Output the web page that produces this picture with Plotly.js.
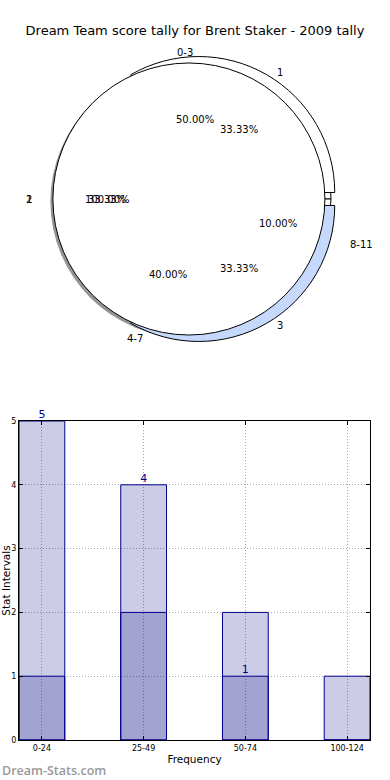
<!DOCTYPE html>
<html>
<head>
<meta charset="utf-8">
<script src="https://cdn.plot.ly/plotly-3.0.1.min.js"></script>
<style>html,body{margin:0;padding:0;background:#fff;}#chart{width:390px;height:780px;}</style>
</head>
<body>
<div id="chart"></div>
<script>
// ---------- data ----------
const chartTitle = 'Dream Team score tally for Brent Staker - 2009 tally';
const pieGroupLabels = ['0-3', '4-7', '8-11'];
const pieGroupValues = [5, 4, 1];
const pieRankLabels = ['1', '2', '3'];
const pieRankValues = [1, 1, 1];
const pieTotalLabels = ['1'];
const pieTotalValues = [1];
const barCategories = ['0-24', '25-49', '50-74', '100-124'];
const barTotals = [5, 4, 2, 1];
const barSubset = [1, 2, 1, 0];
const barLabelValues = [5, 4, 1, null];
const yTickValues = [0, 1, 2, 3, 4, 5];

// ---------- layout helpers ----------
const W = 390, H = 780;
const PIE_CX = 195, PIE_CY = 199, PIE_R = 136;   // pie geometry in px
const TXT_RX = 146, TXT_RY = 133;                // label ellipse (reference is stretched)
const px = x => x / W;
const py = y => 1 - y / H;
function pieDomain(maxPull, dx, dy) {
  const half = PIE_R * (1 + maxPull);
  const cx = PIE_CX + (dx || 0), cy = PIE_CY + (dy || 0);
  return { x: [px(cx - half), px(cx + half)], y: [py(cy + half), py(cy - half)] };
}
function maxOf(a) { return Math.max.apply(null, a); }
function sum(a) { return a.reduce((p, q) => p + q, 0); }
// Plotly (counterclockwise) puts the first slice just clockwise of `rotation`;
// shift so the first slice starts at 3 o'clock and runs counterclockwise.
function startAtThree(values) { return 90 - 360 * values[0] / sum(values); }

const pieFont = { family: 'DejaVu Sans, sans-serif', size: 10, color: '#000' };
const annotations = [];
function addPieText(labels, values) {
  const total = sum(values);
  let cum = 0;
  values.forEach((v, i) => {
    const frac = v / total;
    const ang = 2 * Math.PI * (cum + frac / 2);
    cum += frac;
    const c = Math.cos(ang), s = Math.sin(ang);
    annotations.push({
      text: (frac * 100).toFixed(2) + '%', showarrow: false, font: pieFont,
      xref: 'paper', yref: 'paper', xanchor: 'center', yanchor: 'middle',
      x: px(PIE_CX + 0.6 * TXT_RX * c), y: py(PIE_CY - 0.6 * TXT_RY * s)
    });
    annotations.push({
      text: labels[i], showarrow: false, font: pieFont,
      xref: 'paper', yref: 'paper', xanchor: c > 1e-9 ? 'left' : 'right', yanchor: 'middle',
      x: px(PIE_CX + 1.1 * TXT_RX * c), y: py(PIE_CY - 1.1 * TXT_RY * s)
    });
  });
}
addPieText(pieGroupLabels, pieGroupValues);
addPieText(pieRankLabels, pieRankValues);
addPieText(pieTotalLabels, pieTotalValues);

annotations.push({
  text: 'Dream-Stats.com', showarrow: false, xref: 'paper', yref: 'paper',
  x: 0, y: py(770), xanchor: 'left', yanchor: 'middle',
  font: { family: 'Open Sans, sans-serif', size: 12.5, color: '#999999', weight: 600 }
});

const pieCommon = {
  type: 'pie', sort: false, direction: 'counterclockwise',
  textinfo: 'none', hoverinfo: 'skip', showlegend: false
};
const rankPull = [0.055, 0, 0.055];
const totalPull = [0.045];
const groupPull = [0, 0, 0];

const traces = [
  // shadow under the pies
  Object.assign({}, pieCommon, {
    labels: pieTotalLabels, values: pieTotalValues, pull: totalPull,
    rotation: startAtThree(pieTotalValues),
    marker: { colors: ['rgba(60,60,60,0.55)'], line: { width: 0 } },
    domain: pieDomain(maxOf(totalPull), -2.5, 2.5)
  }),
  Object.assign({}, pieCommon, {
    labels: pieGroupLabels, values: pieGroupValues, pull: groupPull,
    rotation: startAtThree(pieGroupValues),
    marker: { colors: ['#ffffff', '#ffffff', '#ffffff'], line: { color: '#000', width: 1 } },
    domain: pieDomain(maxOf(groupPull))
  }),
  Object.assign({}, pieCommon, {
    labels: pieRankLabels, values: pieRankValues, pull: rankPull,
    rotation: startAtThree(pieRankValues),
    marker: { colors: ['#ffffff', '#ffffff', '#c6d9fd'], line: { color: '#000', width: 1 } },
    domain: pieDomain(maxOf(rankPull))
  }),
  Object.assign({}, pieCommon, {
    labels: pieTotalLabels, values: pieTotalValues, pull: totalPull,
    rotation: startAtThree(pieTotalValues),
    marker: { colors: ['#ffffff'], line: { color: '#000', width: 1 } },
    domain: pieDomain(maxOf(totalPull))
  }),
  // bars
  {
    type: 'bar', x: barCategories, y: barTotals, width: 0.45, hoverinfo: 'skip', showlegend: false,
    marker: { color: 'rgba(0,0,128,0.2)', line: { color: '#00008b', width: 1 } }
  },
  {
    type: 'bar', x: barCategories, y: barSubset, width: 0.45, hoverinfo: 'skip', showlegend: false,
    marker: { color: 'rgba(0,0,128,0.2)', line: { color: '#00008b', width: 1 } }
  },
  {
    type: 'scatter', mode: 'text', x: barCategories, y: barLabelValues,
    text: barLabelValues.map(v => v == null ? '' : String(v)),
    textposition: 'top center', cliponaxis: false, hoverinfo: 'skip', showlegend: false,
    textfont: { family: 'DejaVu Sans, sans-serif', size: 11, color: '#00008b' }
  }
];

const axisFont = { family: 'DejaVu Sans, sans-serif', size: 8, color: '#000' };
const titleFont = { family: 'DejaVu Sans, sans-serif', size: 10.5, color: '#000' };
const layout = {
  width: W, height: H,
  margin: { l: 0, r: 0, t: 0, b: 0 },
  paper_bgcolor: '#fff', plot_bgcolor: '#fff',
  font: { family: 'DejaVu Sans, sans-serif', color: '#000' },
  title: {
    text: chartTitle, x: 0.5, xanchor: 'center', xref: 'paper',
    y: py(30), yanchor: 'middle', yref: 'container',
    font: { family: 'DejaVu Sans, sans-serif', size: 13, color: '#000' }
  },
  barmode: 'overlay',
  xaxis: {
    domain: [px(19), px(370)], type: 'category', range: [-0.225, 3.225],
    showline: true, linecolor: '#000', linewidth: 1, mirror: 'ticks',
    ticks: 'inside', ticklen: 4, tickcolor: '#000',
    showgrid: true, gridcolor: '#a8a8a8', griddash: '1px,2px', gridwidth: 1,
    tickfont: axisFont, zeroline: false, fixedrange: true,
    title: { text: 'Frequency', standoff: 4, font: titleFont }
  },
  yaxis: {
    domain: [py(740), py(421)], range: [0, 5], tickvals: yTickValues,
    showline: true, linecolor: '#000', linewidth: 1, mirror: 'ticks',
    ticks: 'inside', ticklen: 4, tickcolor: '#000',
    showgrid: true, gridcolor: '#a8a8a8', griddash: '1px,2px', gridwidth: 1,
    tickfont: axisFont, zeroline: false, fixedrange: true,
    title: { text: 'Stat Intervals', standoff: 0, font: titleFont }
  },
  annotations: annotations
};

Plotly.newPlot('chart', traces, layout, { staticPlot: true, displayModeBar: false });
</script>
</body>
</html>
